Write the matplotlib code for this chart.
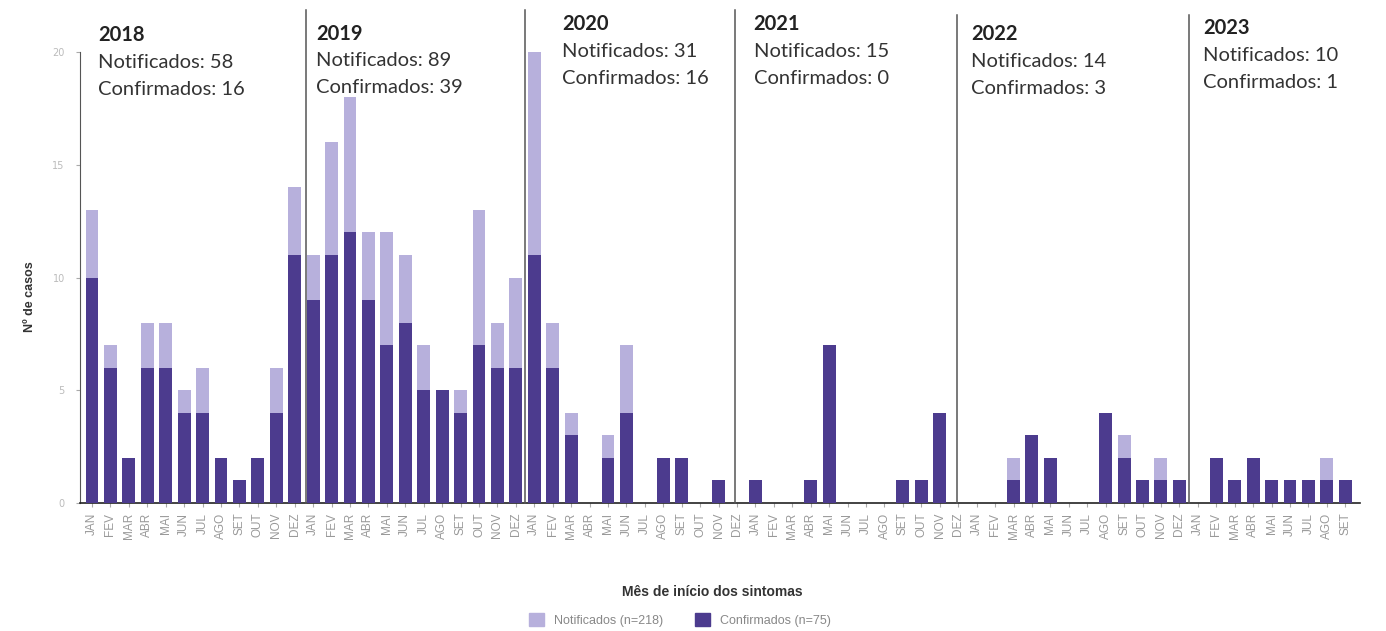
import matplotlib
matplotlib.use("Agg")
import matplotlib.pyplot as plt
from matplotlib.patches import Patch
import numpy as np

months = ["JAN", "FEV", "MAR", "ABR", "MAI", "JUN", "JUL", "AGO", "SET", "OUT", "NOV", "DEZ"]
years = ["2018", "2019", "2020", "2021", "2022", "2023"]

notificados = [
    13, 7, 2, 8, 8, 5, 6, 2, 1, 2, 6, 14,        # 2018
    11, 16, 18, 12, 12, 11, 7, 5, 5, 13, 8, 10,  # 2019
    20, 8, 4, 0, 3, 7, 0, 2, 2, 0, 1, 0,         # 2020
    1, 0, 0, 1, 7, 0, 0, 0, 1, 1, 4, 0,          # 2021
    0, 0, 2, 3, 2, 0, 0, 4, 3, 1, 2, 1,          # 2022
    0, 2, 1, 2, 1, 1, 1, 2, 1,                   # 2023
]
confirmados = [
    10, 6, 2, 6, 6, 4, 4, 2, 1, 2, 4, 11,
    9, 11, 12, 9, 7, 8, 5, 5, 4, 7, 6, 6,
    11, 6, 3, 0, 2, 4, 0, 2, 2, 0, 1, 0,
    1, 0, 0, 1, 7, 0, 0, 0, 1, 1, 4, 0,
    0, 0, 1, 3, 2, 0, 0, 4, 2, 1, 1, 1,
    0, 2, 1, 2, 1, 1, 1, 1, 1,
]
year_notif = [58, 89, 31, 15, 14, 10]
year_conf = [16, 39, 16, 0, 3, 1]
legend_labels = ["Notificados (n=218)", "Confirmados (n=75)"]

tick_labels = [months[i % 12] for i in range(len(notificados))]

# layout (positions)
divider_x = [11.6, 23.5, 34.87, 46.96, 59.54]
divider_top = [1.093, 1.093, 1.093, 1.083, 1.083]
ann_x = [0.33, 12.15, 25.5, 35.9, 47.7, 60.3]
ann_y = [0.0, 0.004, 0.025, 0.025, 0.003, 0.016]

light = "#b7b0dc"
dark = "#4c3b8e"

fig = plt.figure(figsize=(13.86, 6.31), dpi=100)
ax = fig.add_axes([80 / 1386, 1 - 503 / 631, (1360 - 80) / 1386, (503 - 52) / 631])

x = np.arange(len(notificados))
ax.bar(x, notificados, width=0.7, color=light, zorder=2)
ax.bar(x, confirmados, width=0.7, color=dark, zorder=3)

ax.set_xlim(-0.65, 68.8)
ax.set_ylim(0, 20)
ax.set_yticks([0, 5, 10, 15, 20])
ax.set_yticklabels(["0", "5", "10", "15", "20"], fontsize=7, color="#bbbbbb")
ax.set_xticks(x)
ax.set_xticklabels(tick_labels, rotation=90, fontsize=8.5, color="#999999",
                   family="Liberation Sans")
ax.tick_params(axis="x", length=3, color="#aaaaaa", pad=4)
ax.tick_params(axis="y", length=3, color="#aaaaaa", pad=8)

for s in ["top", "right"]:
    ax.spines[s].set_visible(False)
ax.spines["left"].set_color("#555555")
ax.spines["bottom"].set_color("#222222")
ax.spines["bottom"].set_linewidth(1.2)

trans = ax.get_xaxis_transform()
for dx, top in zip(divider_x, divider_top):
    ax.plot([dx, dx], [0, top], transform=trans, color="#555555", lw=1.1,
            clip_on=False, zorder=4)

for xi, yo, yr, n, c in zip(ann_x, ann_y, years, year_notif, year_conf):
    ax.text(xi, 1.037 + yo, yr, transform=trans, fontsize=14.5, fontweight="bold",
            family="Lato", color="#222222", va="center", ha="left")
    ax.text(xi, 0.977 + yo, f"Notificados: {n}", transform=trans, fontsize=14.5,
            family="Lato", color="#333333", va="center", ha="left")
    ax.text(xi, 0.917 + yo, f"Confirmados: {c}", transform=trans, fontsize=14.5,
            family="Lato", color="#333333", va="center", ha="left")

fig.text(30 / 1386, 1 - 297 / 631, "Nº de casos", rotation=90, fontsize=9,
         fontweight="bold", color="#333333", ha="center", va="center",
         family="Liberation Sans")
fig.text(712 / 1386, 1 - 592 / 631, "Mês de início dos sintomas", fontsize=10,
         fontweight="bold", color="#333333", ha="center", va="center",
         family="Liberation Sans")

handles = [Patch(color=light), Patch(color=dark)]
leg = fig.legend(handles, legend_labels, loc="center", bbox_to_anchor=(680 / 1386, 1 - 620 / 631),
                 ncol=2, frameon=False, handlelength=1.2, handleheight=1.2,
                 columnspacing=2.5, prop={"family": "Liberation Sans", "size": 9})
for t in leg.get_texts():
    t.set_color("#888888")

fig.savefig("out.png", dpi=100, facecolor="white")
